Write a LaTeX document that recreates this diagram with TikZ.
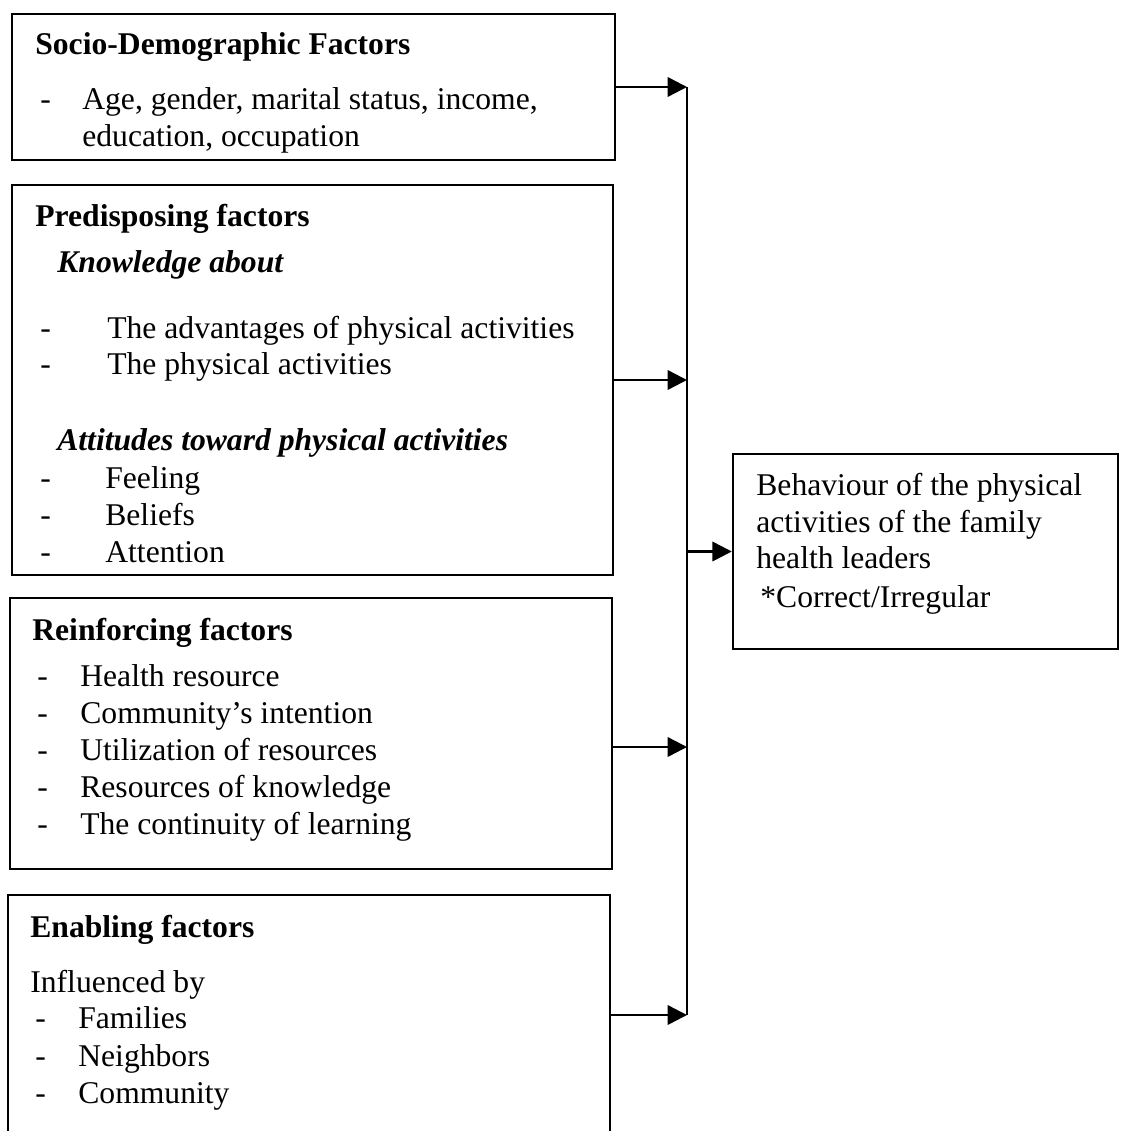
\documentclass[tikz,border=0pt]{standalone}
\usepackage{fontspec}
\setmainfont{Liberation Serif}
\usetikzlibrary{arrows.meta, fit}

\tikzset{
    cadre/.style={draw=black, line width=1.4pt, inner sep=0pt},
    txt/.style={anchor=base west, inner sep=0pt, font=\fontsize{18}{21}\selectfont},
    titre/.style={txt, font=\fontsize{18}{21}\selectfont\bfseries},
    soustitre/.style={txt, font=\fontsize{18}{21}\selectfont\bfseries\itshape},
    fleche/.style={line width=1.4pt, -{Triangle[length=11pt, width=11pt]}},
}

\begin{document}
\begin{tikzpicture}[x=0.02cm, y=-0.02cm]
            \useasboundingbox (0,0) rectangle (1121,1131);

            % Cadres des facteurs
            \node[cadre, fit={(12,14) (615,160)}] (F1) {};
            \node[cadre, fit={(12,185) (613,575)}] (F2) {};
            \node[cadre, fit={(10,598) (612,869)}] (F3) {};
            \node[cadre, fit={(8,895) (610,1160)}] (F4) {};
            \node[cadre, fit={(733,454) (1118,649)}] (C) {};

            % Facteurs socio-demographiques
            \node[titre] (t10) at (35,55) {Socio-Demographic Factors};
            \node[txt] (d11) at (40,110) {-};
            \node[txt] (t11) at (82,110) {Age, gender, marital status, income,};
            \node[txt] (t12) at (82,147) {education, occupation};

            % Facteurs predisposants
            \node[titre] (t20) at (35,227) {Predisposing factors};
            \node[soustitre] (s21) at (57,273) {Knowledge about};
            \node[txt] (d21) at (40,338) {-};
            \node[txt] (t21) at (107,338) {The advantages of physical activities};
            \node[txt] (d22) at (40,375) {-};
            \node[txt] (t22) at (107,375) {The physical activities};
            \node[soustitre] (s22) at (57,450) {Attitudes toward physical activities};
            \node[txt] (d23) at (40,488) {-};
            \node[txt] (t23) at (105,488) {Feeling};
            \node[txt] (d24) at (40,525) {-};
            \node[txt] (t24) at (105,525) {Beliefs};
            \node[txt] (d25) at (40,562) {-};
            \node[txt] (t25) at (105,562) {Attention};

            % Facteurs de renforcement
            \node[titre] (t30) at (32,640) {Reinforcing factors};
            \node[txt] (d31) at (37,686) {-};
            \node[txt] (t31) at (80,686) {Health resource};
            \node[txt] (d32) at (37,723) {-};
            \node[txt] (t32) at (80,723) {Community's intention};
            \node[txt] (d33) at (37,760) {-};
            \node[txt] (t33) at (80,760) {Utilization of resources};
            \node[txt] (d34) at (37,797) {-};
            \node[txt] (t34) at (80,797) {Resources of knowledge};
            \node[txt] (d35) at (37,834) {-};
            \node[txt] (t35) at (80,834) {The continuity of learning};

            % Facteurs facilitants
            \node[titre] (t40) at (30,937) {Enabling factors};
            \node[txt] (s41) at (30,992) {Influenced by};
            \node[txt] (d41) at (35,1028) {-};
            \node[txt] (t41) at (78,1028) {Families};
            \node[txt] (d42) at (35,1066) {-};
            \node[txt] (t42) at (78,1066) {Neighbors};
            \node[txt] (d43) at (35,1103) {-};
            \node[txt] (t43) at (78,1103) {Community};

            % Comportement
            \node[txt] (c1) at (756,495) {Behaviour of the physical};
            \node[txt] (c2) at (756,532) {activities of the family};
            \node[txt] (c3) at (756,568) {health leaders};
            \node[txt] (c4) at (760,607) {*Correct/Irregular};

            % Ligne collectrice et fleches
            \coordinate (haut) at (687,87);
            \coordinate (bas) at (687,1015);
            \coordinate (y3) at (0,747);
            \draw[line width=1.4pt] (haut) -- (bas);
            \draw[fleche] (F1.east) -- (haut);
            \draw[fleche] (F2.east) -- (F2.east -| haut);
            \draw[fleche] (F3.east |- y3) -- (haut |- y3);
            \draw[fleche] (F4.east |- bas) -- (bas);
            \draw[fleche] (haut |- C.west) -- (C.west);
\end{tikzpicture}
\end{document}
